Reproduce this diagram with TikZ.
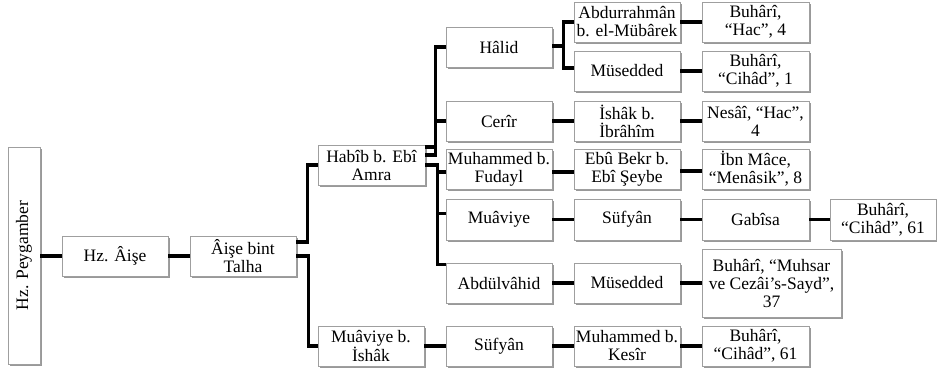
\documentclass[tikz,border=0pt]{standalone}
\usepackage{fontspec}
\setmainfont{Liberation Serif}
\usetikzlibrary{shadows}
\begin{document}
\begin{tikzpicture}[x=1pt,y=-1pt,
  box/.style={draw=gray!75, line width=0.8pt, fill=white, minimum width=106pt, minimum height=40pt,
    inner sep=0pt, align=center, font=\fontsize{17.5}{18}\selectfont,
    drop shadow={shadow xshift=1.8pt, shadow yshift=-1.8pt, fill=black, opacity=0.4}},
  link/.style={line width=3.6pt, black}]
\useasboundingbox (0,0) rectangle (937,373);
% nodes
\node[box, minimum width=32pt, minimum height=217pt] (peyg) at (24,255.5) {\rotatebox{90}{Hz. Peygamber}};
\node[box] (aise) at (115,256) {Hz. Âişe};
\node[box] (talha) at (243,256) {Âişe bint\\Talha};
\node[box, minimum width=107pt] (habib) at (371.5,165) {Habîb b. Ebî\\Amra};
\node[box] (mbi) at (371,346) {Muâviye b.\\İshâk};
\node[box] (halid) at (499,47) {Hâlid};
\node[box] (cerir) at (499,121) {Cerîr};
\node[box] (fudayl) at (499,169) {Muhammed b.\\Fudayl};
\node[box, minimum height=41pt] (muaviye) at (499,219.5) {Muâviye};
\node[box] (abdulvahid) at (499,283) {Abdülvâhid};
\node[box] (sufyanb) at (499,346) {Süfyân};
\node[box] (abdurrahman) at (627,22) {Abdurrahmân\\b. el-Mübârek};
\node[box] (museddeda) at (627,71) {Müsedded};
\node[box] (ishak) at (627,121) {İshâk b.\\İbrâhîm};
\node[box] (ebubekr) at (627,169) {Ebû Bekr b.\\Ebî Şeybe};
\node[box, minimum height=41pt] (sufyana) at (627,219.5) {Süfyân};
\node[box] (museddedb) at (627,283) {Müsedded};
\node[box] (kesir) at (627,346) {Muhammed b.\\Kesîr};
\node[box, minimum width=107pt] (ra) at (755.5,22) {Buhârî,\\“Hac”, 4};
\node[box, minimum width=107pt] (rb) at (755.5,71) {Buhârî,\\“Cihâd”, 1};
\node[box, minimum width=107pt] (rc) at (755.5,121) {Nesâî, “Hac”,\\4};
\node[box, minimum width=107pt] (rd) at (755.5,169) {İbn Mâce,\\“Menâsik”, 8};
\node[box, minimum width=107pt, minimum height=41pt] (gabisa) at (755.5,219.5) {Gabîsa};
\node[box, minimum height=41pt] (rf) at (883,219.5) {Buhârî,\\“Cihâd”, 61};
\node[box, minimum width=139pt, minimum height=68pt] (muhsar) at (771.5,283) {Buhârî, “Muhsar\\ve Cezâi's-Sayd”,\\37};
\node[box, minimum width=107pt] (rg) at (755.5,346) {Buhârî,\\“Cihâd”, 61};
% connectors
\draw[link] (peyg.east |- aise.west) -- (aise.west);
\draw[link] (aise.east) -- (talha.west);
\draw[link] ([yshift=14pt]talha.east) -- ++(11,0) |- (habib.west);
\draw[link] (talha.east) -- ++(12,0) |- (mbi.west);
\draw[link] ([yshift=18pt]habib.east) -- ++(10,0) |- (halid.west);
\draw[link] ([yshift=10pt]habib.east) -- ++(10,0) |- (cerir.west);
\draw[link] (habib.east) -- ++(12,0) |- ([yshift=-3pt]fudayl.west);
\draw[link] (habib.east) -- ++(12,0) |- ([yshift=6pt]muaviye.west);
\draw[link] (habib.east) -- ++(12,0) |- ([yshift=-2pt]abdulvahid.north west);
\draw[link] ([yshift=1pt]halid.east) -- ++(11,0) |- (abdurrahman.west);
\draw[link] ([yshift=1pt]halid.east) -- ++(11,0) |- ([yshift=3pt]museddeda.west);
\draw[link] (abdurrahman.east) -- (ra.west);
\draw[link] (museddeda.east) -- (rb.west);
\draw[link] (cerir.east) -- (ishak.west);
\draw[link] (ishak.east) -- (rc.west);
\draw[link] ([yshift=-3pt]fudayl.east) -- ([yshift=-3pt]ebubekr.west);
\draw[link] ([yshift=-2pt]ebubekr.east) -- ([yshift=-2pt]rd.west);
\draw[link] (muaviye.east) -- (sufyana.west);
\draw[link] (sufyana.east) -- (gabisa.west);
\draw[link] (gabisa.east) -- (rf.west);
\draw[link] (abdulvahid.east) -- (museddedb.west);
\draw[link] (museddedb.east) -- (muhsar.west);
\draw[link] (mbi.east) -- (sufyanb.west);
\draw[link] (sufyanb.east) -- (kesir.west);
\draw[link] (kesir.east) -- (rg.west);
\end{tikzpicture}
\end{document}
